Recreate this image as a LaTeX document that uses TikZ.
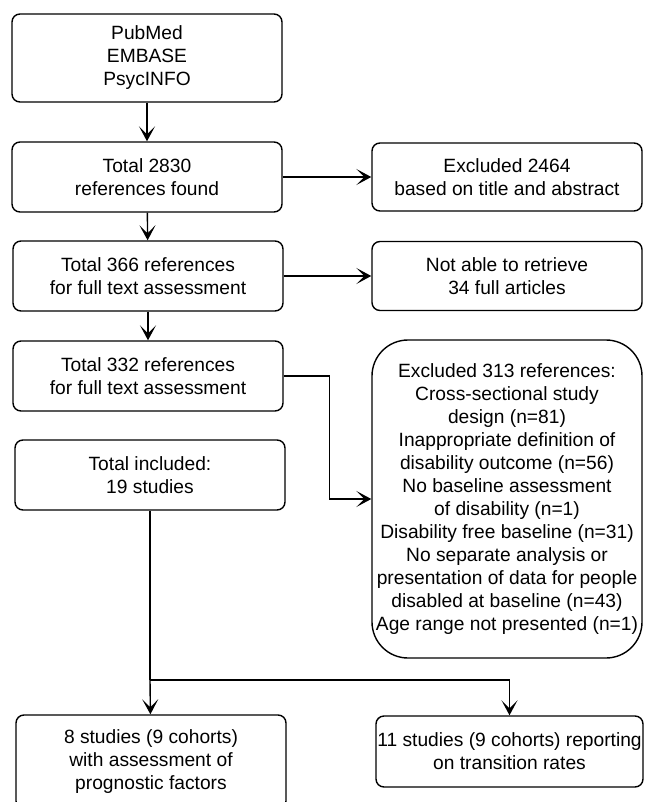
\documentclass[tikz,border=0pt]{standalone}
\usepackage{fontspec}
\setmainfont{Liberation Sans}
\usetikzlibrary{arrows.meta}

\begin{document}
\begin{tikzpicture}[x=0.5pt, y=-0.5pt, >={Stealth[length=7.5pt, width=8pt, inset=4pt]},
    box/.style={draw, line width=0.7pt, rounded corners=4pt, align=center, inner sep=0pt,
      font=\fontsize{9.6}{11.5}\selectfont, minimum width=135pt},
    link/.style={->, line width=0.7pt}]
\useasboundingbox (0,0) rectangle (644,802);

% ---------------- left column ----------------
\node[box, minimum height=44pt] (db) at (147,58) {PubMed\\EMBASE\\PsycINFO};
\node[box, minimum height=35pt] (found) at (147,177) {Total 2830\\references found};
\node[box, minimum height=35pt] (full1) at (148,276) {Total 366 references\\for full text assessment};
\node[box, minimum height=35pt] (full2) at (148,376) {Total 332 references\\for full text assessment};
\node[box, minimum height=35pt] (incl) at (150,475) {Total included:\\19 studies};
\node[box, minimum height=47pt] (prog) at (151,762) {8 studies (9 cohorts)\\with assessment of\\prognostic factors};

% ---------------- right column ----------------
\node[box, minimum height=34pt] (excl1) at (507,177) {Excluded 2464\\based on title and abstract};
\node[box, minimum height=34.5pt] (noret) at (507,276) {Not able to retrieve\\34 full articles};
\node[box, minimum height=159pt, rounded corners=18pt] (excl2) at (507,499)
  {Excluded 313 references:\\Cross-sectional study\\design (n=81)\\Inappropriate definition of\\
   disability outcome (n=56)\\No baseline assessment\\of disability (n=1)\\
   Disability free baseline (n=31)\\No separate analysis or\\presentation of data for people\\
   disabled at baseline (n=43)\\Age range not presented (n=1)};
\node[box, minimum height=35.5pt, minimum width=133.5pt] (trans) at (509.5,751.5) {11 studies (9 cohorts) reporting\\on transition rates};

% ---------------- connectors ----------------
\draw[link] (db) -- (found);
\draw[link] (found) -- (full1);
\draw[link] (full1) -- (full2);
\draw[link] (found) -- (excl1);
\draw[link] (full1) -- (noret);
\draw[link] (full2.east) -- ++(46,0) |- (excl2.west);

\coordinate (split) at (150,680);
\draw[line width=0.7pt] (incl) -- (split);
\draw[link] (split) -- (prog);
\draw[link] (split) -| (trans);

\end{tikzpicture}
\end{document}
